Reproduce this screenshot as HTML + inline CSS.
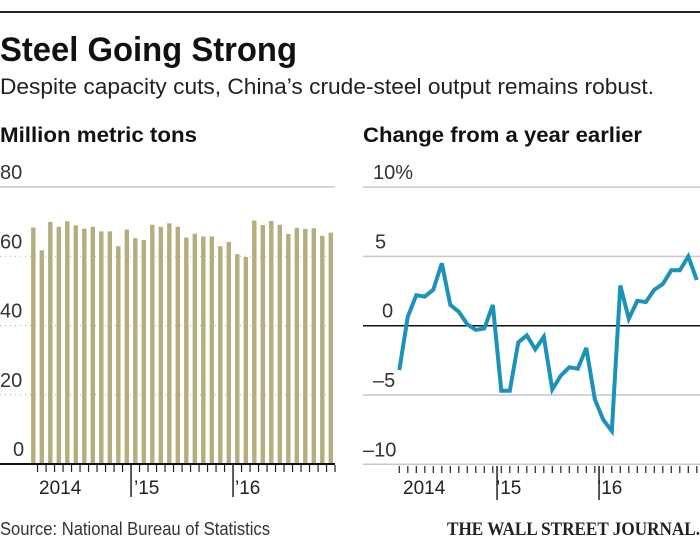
<!DOCTYPE html>
<html><head><meta charset="utf-8"><style>
html,body{margin:0;padding:0;background:#fff;}
svg{display:block;font-family:"Liberation Sans Narrow","Liberation Sans",sans-serif;}
</style></head><body>
<svg id="chart" width="700" height="541" viewBox="0 0 700 541" xmlns="http://www.w3.org/2000/svg">
<rect x="0" y="11" width="700" height="2" fill="#222"/>
<text x="0" y="61" font-size="34" font-weight="bold" fill="#111" textLength="297" lengthAdjust="spacingAndGlyphs">Steel Going Strong</text>
<text x="0" y="94" font-size="22" fill="#222" textLength="654" lengthAdjust="spacingAndGlyphs">Despite capacity cuts, China’s crude-steel output remains robust.</text>
<text x="0" y="142" font-size="21" font-weight="bold" fill="#111" textLength="197" lengthAdjust="spacingAndGlyphs">Million metric tons</text>
<text x="363" y="142" font-size="21" font-weight="bold" fill="#111" textLength="279" lengthAdjust="spacingAndGlyphs">Change from a year earlier</text>
<g id="left"></g>
<g id="right"></g>
<text x="0" y="535" font-size="18" fill="#333" textLength="270" lengthAdjust="spacingAndGlyphs">Source: National Bureau of Statistics</text>
<text x="447" y="535" font-size="19" font-family="Liberation Serif, serif" font-weight="bold" fill="#222" textLength="253" lengthAdjust="spacingAndGlyphs">THE WALL STREET JOURNAL.</text>
</svg>
<script>
const output = [68.3,61.7,69.9,68.5,70.1,68.9,68.0,68.5,67.2,67.2,62.9,67.7,65.2,64.7,69.1,68.5,69.5,68.5,65.4,66.5,65.7,65.7,62.9,64.1,60.6,59.8,70.3,69.0,70.2,69.1,66.4,68.2,67.9,68.1,65.9,66.8];
const change = [-3.2,0.65,2.2,2.1,2.6,4.5,1.5,1.0,0.1,-0.3,-0.2,1.5,-4.7,-4.7,-1.2,-0.7,-1.7,-0.8,-4.6,-3.6,-3.0,-3.1,-1.6,-5.3,-6.8,-7.6,2.9,0.5,1.8,1.7,2.6,3.0,4.0,4.0,5.0,3.3];
const leftTicks = [0,20,40,60,80];
const leftTickLabels = ["0","20","40","60","80"];
const rightTicks = [-10,-5,0,5,10];
const rightTickLabels = ["\u201310","\u20135","0","5","10%"];
const yearLabels = ["2014","\u201915","\u201916"];

const NS="http://www.w3.org/2000/svg";
function mk(parent,tag,attrs,text){const e=document.createElementNS(NS,tag);for(const k in attrs)e.setAttribute(k,attrs[k]);if(text!==undefined)e.textContent=text;parent.appendChild(e);return e;}

// Left chart
const L=document.getElementById('left');
const ly=v=>464-(v/80)*277;
const lx=i=>33.3+i*8.5;
leftTicks.forEach((t,k)=>{
  if(t>0){const g=mk(L,'line',{x1:0,x2:335,y1:ly(t),y2:ly(t),stroke:t===80?'#c8c8c8':'#aaa','stroke-width':t===80?1.5:1,'stroke-dasharray':t===80?'none':'1 4'});
  
  }
  const lb=mk(L,'text',{x:t===0?13:0,y:ly(t)-8,'font-size':20,fill:'#333','font-family':'Liberation Sans, sans-serif'},leftTickLabels[k]);
  
  
});
output.forEach((v,i)=>{
  const b=mk(L,'rect',{x:lx(i)-2.2,y:ly(v),width:4.4,height:464-ly(v),fill:'#b5ad7d'});
  
  
});
const lbase=mk(L,'rect',{x:0,y:463,width:335,height:2,fill:'#111'});


for(let i=1;i<=36;i++){const x=lx(i)-4.25;const maj=(i===12||i===24);
  const t=mk(L,'line',{x1:x,x2:x,y1:465,y2:maj?497:472,stroke:'#222','stroke-width':maj?1.5:1.2});
  
  }
[[39,yearLabels[0]],[134,yearLabels[1]],[235,yearLabels[2]]].forEach(([x,s])=>{
  const t=mk(L,'text',{x:x,y:494,'font-size':19,fill:'#222'},s);
  
  });

// Right chart
const R=document.getElementById('right');
const ry=v=>325.7-v*13.86;
const rx=i=>399.3+i*8.5;
const rLabelX={"-10":363,"-5":373,"0":382,"5":375,"10":373};
rightTicks.forEach((t,k)=>{
  const g=mk(R,'line',{x1:363,x2:700,y1:ry(t),y2:ry(t),stroke:t===0?'#111':'#c8c8c8','stroke-width':t===0?1.5:1.5});
  
  
  const lb=mk(R,'text',{x:rLabelX[String(t)],y:ry(t)-8,'font-size':20,fill:'#333','font-family':'Liberation Sans, sans-serif'},rightTickLabels[k]);
  
  
});
for(let i=0;i<36;i++){const maj=(i===11||i===23);const x=maj?rx(i)+4.25:rx(i);
  const t=mk(R,'line',{x1:x,x2:x,y1:466,y2:maj?500:473,stroke:'#222','stroke-width':maj?1.5:1.2});
  
  
  if(maj){const t2=mk(R,'line',{x1:rx(i),x2:rx(i),y1:466,y2:473,stroke:'#222','stroke-width':1.2});
  
  }}
[[403,yearLabels[0]],[496,yearLabels[1]],[597,yearLabels[2]]].forEach(([x,s])=>{
  const t=mk(R,'text',{x:x,y:494,'font-size':19,fill:'#222'},s);
  
  });
const pts=change.map((v,i)=>rx(i).toFixed(1)+','+ry(v).toFixed(1)).join(' ');
const pl=mk(R,'polyline',{points:pts,fill:'none',stroke:'#1b93b9','stroke-width':4,'stroke-linejoin':'miter','stroke-miterlimit':3});


</script>
</body></html>
